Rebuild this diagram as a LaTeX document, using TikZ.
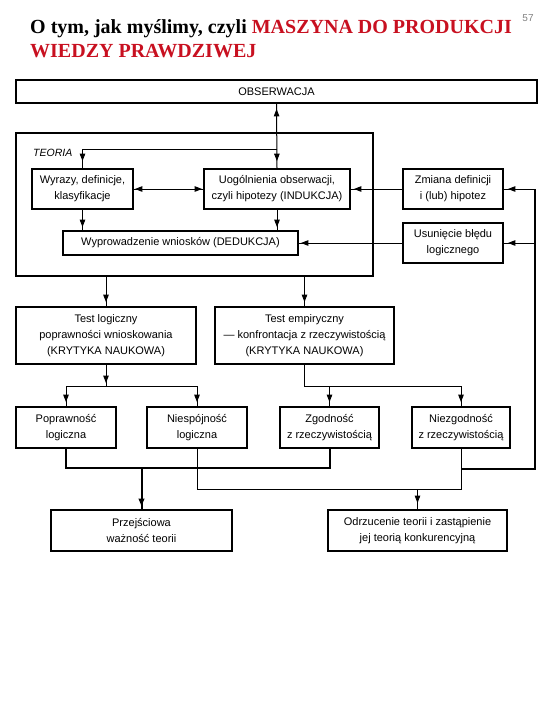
\documentclass[tikz,border=0pt]{standalone}
\usepackage{fontspec}
\setmainfont{Liberation Serif}
\newfontfamily\lsans{Liberation Sans}
\usetikzlibrary{arrows.meta,decorations.markings}
\definecolor{titlered}{RGB}{200,16,32}
\begin{document}
\begin{tikzpicture}[x=1pt,y=-1pt,
  >={Triangle[length=7.5pt,width=5.5pt]},
  box/.style={draw,line width=1.8pt,inner sep=0pt,align=center,font=\lsans\fontsize{11}{16}\selectfont},
  conn/.style={line width=1pt},
  heavy/.style={line width=2pt},
  arr/.style={postaction={decorate},decoration={markings,mark=at position -#1 with {\arrow{>}}}},
  arr/.default=4pt,
  arrboth/.style 2 args={postaction={decorate},decoration={markings,mark=at position #1 with {\arrowreversed{>}},mark=at position -#2 with {\arrow{>}}}},
]
\useasboundingbox (0,0) rectangle (540,720);
% title
\node[anchor=base west,inner sep=0pt,font=\bfseries\fontsize{20}{24}\selectfont] (t1) at (30,33) {O tym, jak myślimy, czyli \textcolor{titlered}{MASZYNA DO PRODUKCJI}};
\node[anchor=base west,inner sep=0pt,font=\bfseries\fontsize{20}{24}\selectfont,text=titlered] (t2) at (30,57) {WIEDZY PRAWDZIWEJ};
\node[inner sep=0pt,font=\lsans\fontsize{10}{12}\selectfont,text=gray] (pg) at (528,18) {57};
% boxes
\node[box,minimum width=521pt,minimum height=23pt] (obs) at (276.5,91.5) {OBSERWACJA};
\node[box,minimum width=357pt,minimum height=143pt] (teo) at (194.5,204.5) {};
\node[anchor=west,inner sep=0pt,font=\lsans\itshape\fontsize{10.5}{12}\selectfont] (teol) at (33,153) {TEORIA};
\node[box,minimum width=101pt,minimum height=40pt] (wyr) at (82.5,189) {Wyrazy, definicje,\\klasyfikacje};
\node[box,minimum width=146pt,minimum height=40pt] (uog) at (277,189) {Uogólnienia obserwacji,\\czyli hipotezy (INDUKCJA)};
\node[box,minimum width=100pt,minimum height=40pt] (zm) at (453,189) {Zmiana definicji\\i (lub) hipotez};
\node[box,minimum width=235pt,minimum height=24pt] (wyp) at (180.5,243) {Wyprowadzenie wniosków (DEDUKCJA)};
\node[box,minimum width=100pt,minimum height=40pt] (usu) at (453,243) {Usunięcie błędu\\logicznego};
\node[box,minimum width=180pt,minimum height=57pt] (tl) at (106,335.5) {Test logiczny\\poprawności wnioskowania\\(KRYTYKA NAUKOWA)};
\node[box,minimum width=179pt,minimum height=57pt] (te) at (304.5,335.5) {Test empiryczny\\— konfrontacja z rzeczywistością\\(KRYTYKA NAUKOWA)};
\node[box,minimum width=100pt,minimum height=41pt] (pop) at (66,427.5) {Poprawność\\logiczna};
\node[box,minimum width=100pt,minimum height=41pt] (nie) at (197,427.5) {Niespójność\\logiczna};
\node[box,minimum width=99pt,minimum height=41pt] (zgo) at (329.5,427.5) {Zgodność\\z rzeczywistością};
\node[box,minimum width=98pt,minimum height=41pt] (niez) at (461,427.5) {Niezgodność\\z rzeczywistością};
\node[box,minimum width=181pt,minimum height=41pt] (prz) at (141.5,530.5) {Przejściowa\\ważność teorii};
\node[box,minimum width=179pt,minimum height=41pt] (odr) at (417.5,530.5) {Odrzucenie teorii i zastąpienie\\jej teorią konkurencyjną};
% connectors in TEORIA
\coordinate (j1) at (277,149);
\draw[conn,arrboth={5pt}{7pt}] (obs.south) -- (uog.north);
\draw[conn,arr=7pt] (j1) -| (wyr.north);
\draw[conn,arrboth={1pt}{1pt}] (wyr.east) -- (uog.west);
\draw[conn,arr=3pt] (wyr.south) -- (wyr.south |- wyp.north);
\draw[conn,arr=3pt] (uog.south) -- (uog.south |- wyp.north);
\draw[conn,arr=3pt] (zm.west) -- (uog.east);
\draw[conn,arr=2pt] (usu.west) -- (wyp.east);
% right feedback loop
\coordinate (rbot) at (535,469);
\coordinate (rtop) at (zm.east -| rbot);
\coordinate (rmid) at (usu.east -| rbot);
\draw[heavy] (niez.south |- rbot) -- (rbot) -- (rtop);
\draw[conn,arr=4pt] (rtop) -- (zm.east);
\draw[conn,arr=4pt] (rmid) -- (usu.east);
% tests
\draw[conn,arr=4pt] (tl.north |- teo.south) -- (tl.north);
\draw[conn,arr=4pt] (te.north |- teo.south) -- (te.north);
\coordinate (br1) at (106,386);
\draw[conn,arr=3pt] (tl.south) -- (br1);
\draw[conn] (pop.north |- br1) -- (nie.north |- br1);
\draw[conn,arr=4pt] (pop.north |- br1) -- (pop.north);
\draw[conn,arr=4pt] (nie.north |- br1) -- (nie.north);
\draw[conn,arr=4pt] (te.south) |- (niez.north |- br1) -- (niez.north);
\draw[conn,arr=4pt] (zgo.north |- br1) -- (zgo.north);
% results
\coordinate (lo1) at (0,468);
\coordinate (lo2) at (0,489);
\draw[heavy] (pop.south) |- (zgo.south |- lo1) -- (zgo.south);
\draw[heavy,arr=3pt] (prz.north |- lo1) -- (prz.north);
\draw[conn] (nie.south) |- (niez.south |- lo2) -- (niez.south);
\draw[conn,arr=6pt] (odr.north |- lo2) -- (odr.north);
\end{tikzpicture}
\end{document}
